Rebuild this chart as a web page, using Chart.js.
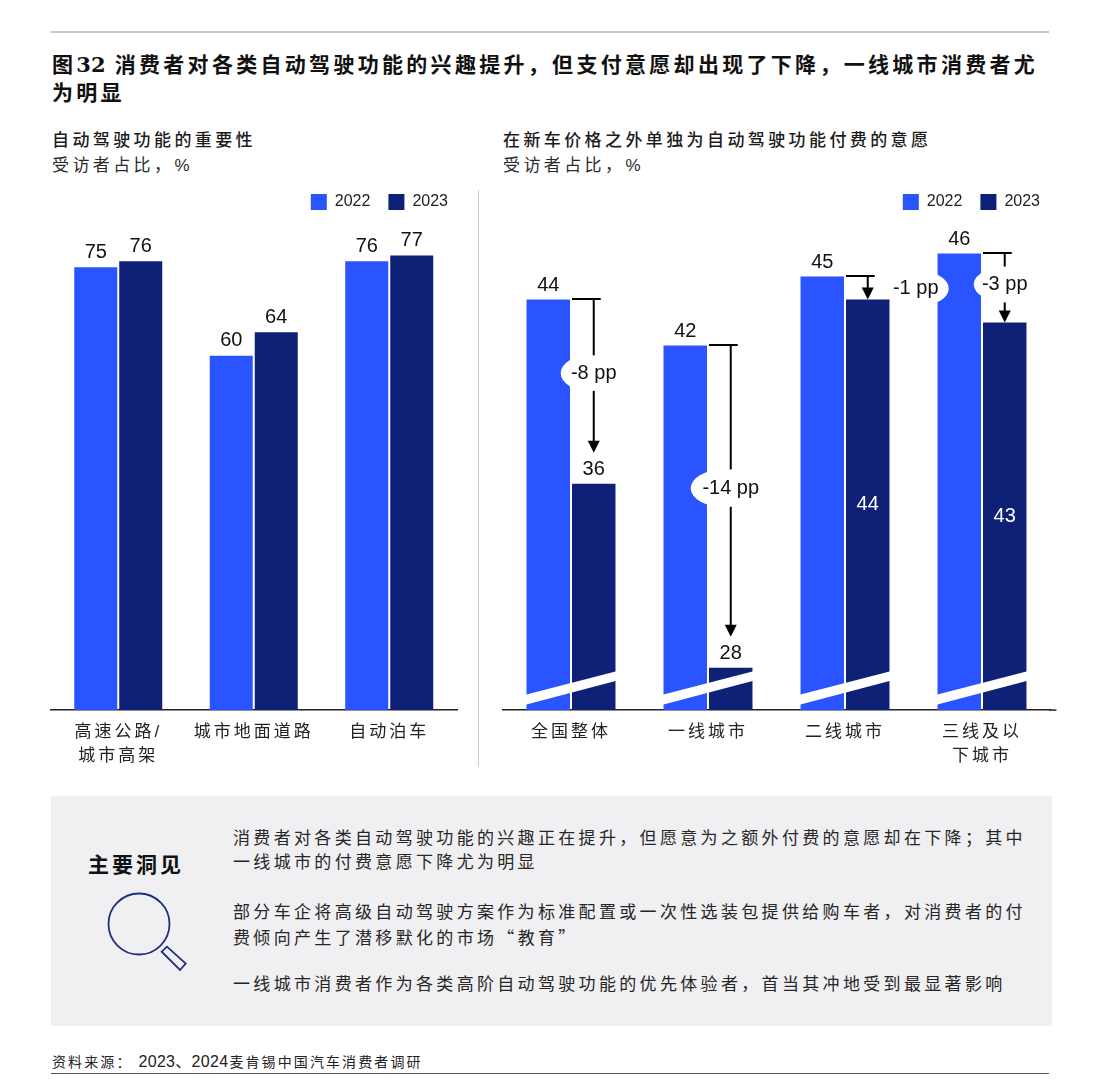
<!DOCTYPE html>
<html lang="zh">
<head>
<meta charset="utf-8">
<script src="https://cdn.jsdelivr.net/npm/chart.js@4"></script>
<style>
html,body{margin:0;padding:0;background:#fff;}
body{width:1093px;height:1080px;position:relative;overflow:hidden;font-family:"Liberation Sans","Noto Sans CJK SC",sans-serif;color:#1a1a1a;}
.t{position:absolute;white-space:nowrap;line-height:1;}
.title{font-size:21px;font-weight:700;letter-spacing:3.3px;color:#111;}
.title b{font-family:"DejaVu Serif";font-weight:700;letter-spacing:0;}
.sub{font-size:17px;letter-spacing:3.4px;font-weight:500;color:#1c1c1c;}
.sub2{font-size:17px;letter-spacing:3.4px;color:#2a2a2a;}
.body{font-size:17px;letter-spacing:3.33px;color:#262626;left:233px;}
.q{font-family:"Noto Sans CJK SC";}
.rule{position:absolute;}
canvas{position:absolute;}
</style>
</head>
<body>
<div class="rule" style="left:51px;top:31px;width:998px;height:2px;background:#c9c9c9"></div>
<div class="t title" style="left:52px;top:54px">图<b>32</b> 消费者对各类自动驾驶功能的兴趣提升，但支付意愿却出现了下降，一线城市消费者尤</div>
<div class="t title" style="left:52px;top:82px">为明显</div>
<div class="t sub" style="left:52px;top:132px">自动驾驶功能的重要性</div>
<div class="t sub2" style="left:52px;top:157px">受访者占比，%</div>
<div class="t sub" style="left:503px;top:132px">在新车价格之外单独为自动驾驶功能付费的意愿</div>
<div class="t sub2" style="left:503px;top:157px">受访者占比，%</div>
<div class="rule" style="left:478px;top:190px;width:1px;height:577px;background:#cfcfcf"></div>

<canvas id="left" style="left:0;top:176px;width:466px;height:602px"></canvas>
<canvas id="right" style="left:480px;top:176px;width:578px;height:602px"></canvas>

<div class="rule" style="left:51px;top:796px;width:1001px;height:230px;background:#f0f0f3"></div>
<div class="t" style="left:88px;top:854px;font-size:21px;font-weight:700;letter-spacing:3px;color:#111">主要洞见</div>
<svg style="position:absolute;left:100px;top:885px" width="95" height="95" viewBox="100 885 95 95">
  <circle cx="139" cy="924" r="30.5" fill="none" stroke="#1f2f80" stroke-width="1.8"/>
  <polygon points="161.7,951.7 167,946.7 185.7,963.5 180,970" fill="none" stroke="#1f2f80" stroke-width="1.8"/>
</svg>
<div class="t body" style="top:830px">消费者对各类自动驾驶功能的兴趣正在提升，但愿意为之额外付费的意愿却在下降；其中</div>
<div class="t body" style="top:854px">一线城市的付费意愿下降尤为明显</div>
<div class="t body" style="top:904px">部分车企将高级自动驾驶方案作为标准配置或一次性选装包提供给购车者，对消费者的付</div>
<div class="t body" style="top:928px">费倾向产生了潜移默化的市场<span class="q">“</span>教育<span class="q">”</span></div>
<div class="t body" style="top:976px">一线城市消费者作为各类高阶自动驾驶功能的优先体验者，首当其冲地受到最显著影响</div>
<div class="t" style="left:52px;top:1054px;font-size:14px;letter-spacing:2.1px;color:#222">资料来源：<span style="font-size:16px;letter-spacing:0.3px;margin-left:6px;margin-right:1px">2023、2024</span>麦肯锡中国汽车消费者调研</div>
<div class="rule" style="left:51px;top:1073px;width:998px;height:1px;background:#555"></div>

<script>
// ---- data ----
const years = ['2022', '2023'];
const importanceCats = [['高速公路/', '城市高架'], '城市地面道路', '自动泊车'];
const importance2022 = [75, 60, 76];
const importance2023 = [76, 64, 77];

const payCats = ['全国整体', '一线城市', '二线城市', ['三线及以', '下城市']];
const pay2022 = [44, 42, 45, 46];
const pay2023 = [36, 28, 44, 43];
const payDeltas = ['-8 pp', '-14 pp', '-1 pp', '-3 pp'];

// ---- styling / layout configuration ----
const C22 = '#2a54ff', C23 = '#0f2177';
const NUM = '"Liberation Sans"';
const CJK = '"Liberation Sans","Noto Sans CJK SC"';
const insideBar = [false, false, true, true];      // 2023 value printed inside bar
const calloutValue = [40.8, 35.8, 44.48, 44.66];   // callout height on the value axis
const calloutText = [0, 0, 48, 0];                 // text shift from the 2023 bar centre
const calloutOval = [[-4, 29, 18], [-6, 34, 19], [53, 28, 17], [1, 32, 18]]; // dx, rx, ry

const spacedTicks = {
  id: 'spacedTicks',
  beforeDraw(chart) {
    const s = chart.scales.x, ctx = chart.ctx;
    if (s._spaced) return;
    const orig = s.drawLabels;
    s.drawLabels = function (a) {
      ctx.save(); ctx.letterSpacing = '3px'; orig.call(this, a); ctx.restore();
    };
    s._spaced = true;
  }
};

function text(ctx, str, x, y, color, size) {
  ctx.fillStyle = color;
  ctx.font = size + 'px ' + NUM;
  ctx.textAlign = 'center';
  ctx.textBaseline = 'middle';
  ctx.fillText(str, x, y);
}

function valueLabels(chart, lift, inside) {
  const ctx = chart.ctx, bottom = chart.chartArea.bottom;
  chart.data.datasets.forEach((ds, d) => {
    chart.getDatasetMeta(d).data.forEach((bar, i) => {
      if (d === 1 && inside && inside[i]) {
        text(ctx, String(ds.data[i]), bar.x, (bar.y + bottom) / 2, '#fff', 20);
      } else {
        text(ctx, String(ds.data[i]), bar.x, bar.y - lift, '#111', 20);
      }
    });
  });
}

const leftLabels = { id: 'leftLabels', afterDatasetsDraw(chart) { valueLabels(chart, 15); } };

const rightMarks = {
  id: 'rightMarks',
  afterDatasetsDraw(chart) {
    const ctx = chart.ctx, y = chart.scales.y, ax = chart.chartArea;
    const m22 = chart.getDatasetMeta(0).data, m23 = chart.getDatasetMeta(1).data;
    ctx.save();
    // axis break across each pair of bars
    ctx.fillStyle = '#fff';
    m22.forEach((a, i) => {
      const b = m23[i], l = a.x - a.width / 2 - 1, r = b.x + b.width / 2 + 1, base = ax.bottom - 0.75;
      ctx.beginPath();
      ctx.moveTo(l, base - 14.5); ctx.lineTo(r, base - 38);
      ctx.lineTo(r, base - 28.5); ctx.lineTo(l, base - 4.5);
      ctx.closePath(); ctx.fill();
    });
    // drop arrows
    pay2022.forEach((v, i) => {
      const b = m23[i], top = y.getPixelForValue(v) - 0.5;
      const tip = insideBar[i] ? b.y : b.y - 31;
      ctx.strokeStyle = '#000'; ctx.fillStyle = '#000'; ctx.lineWidth = 2;
      ctx.beginPath();
      ctx.moveTo(b.x - b.width / 2, top); ctx.lineTo(b.x + 7, top);
      ctx.moveTo(b.x, top); ctx.lineTo(b.x, tip - 10);
      ctx.stroke();
      ctx.beginPath();
      ctx.moveTo(b.x, tip); ctx.lineTo(b.x - 6, tip - 12); ctx.lineTo(b.x + 6, tip - 12);
      ctx.closePath(); ctx.fill();
      // callout
      const cy = y.getPixelForValue(calloutValue[i]), o = calloutOval[i];
      ctx.fillStyle = '#fff';
      ctx.beginPath();
      ctx.ellipse(b.x + o[0], cy, o[1], o[2], 0, 0, Math.PI * 2);
      ctx.fill();
      text(ctx, payDeltas[i], b.x + calloutText[i], cy, '#111', 20);
    });
    // baseline overhang
    ctx.strokeStyle = '#222'; ctx.lineWidth = 1.5;
    ctx.beginPath(); ctx.moveTo(ax.right - 1, ax.bottom); ctx.lineTo(ax.right + 6, ax.bottom); ctx.stroke();
    ctx.restore();
    valueLabels(chart, 14, insideBar);
  }
};

function makeChart(id, cats, a, b, yMin, yMax, padLeft, rightPad, extra) {
  return new Chart(document.getElementById(id), {
    type: 'bar',
    data: {
      labels: cats,
      datasets: [
        { label: years[0], data: a, backgroundColor: C22, categoryPercentage: 0.664, barPercentage: 0.956 },
        { label: years[1], data: b, backgroundColor: C23, categoryPercentage: 0.664, barPercentage: 0.956 }
      ]
    },
    options: {
      responsive: false,
      animation: false,
      devicePixelRatio: 1,
      layout: { padding: { left: padLeft, right: 0, top: 0, bottom: 0 } },
      plugins: {
        legend: {
          position: 'top', align: 'end',
          labels: { boxWidth: 16, boxHeight: 16, padding: 18, color: '#222', font: { family: NUM, size: 16 } }
        },
        tooltip: { enabled: false }
      },
      scales: {
        x: {
          grid: { display: false, drawTicks: false },
          border: { display: true, color: '#222', width: 1.5 },
          ticks: { color: '#222', padding: 10, maxRotation: 0, minRotation: 0, autoSkip: false,
                   font: { family: CJK, size: 17, lineHeight: 1.41 } }
        },
        y: {
          position: 'right', min: yMin, max: yMax,
          grid: { display: false }, border: { display: false },
          ticks: { display: false },
          afterFit(s) { s.width = rightPad; }
        }
      }
    },
    plugins: [spacedTicks, extra]
  });
}

function sizeCanvas(id) {
  const c = document.getElementById(id);
  c.width = parseInt(c.style.width); c.height = parseInt(c.style.height);
}
sizeCanvas('left'); sizeCanvas('right');

makeChart('left', importanceCats, importance2022, importance2023, 0, 83, 50.5, 9, leftLabels);
makeChart('right', payCats, pay2022, pay2023, 26.16, 47.46, 22.5, 7.5, rightMarks);
</script>
</body>
</html>
